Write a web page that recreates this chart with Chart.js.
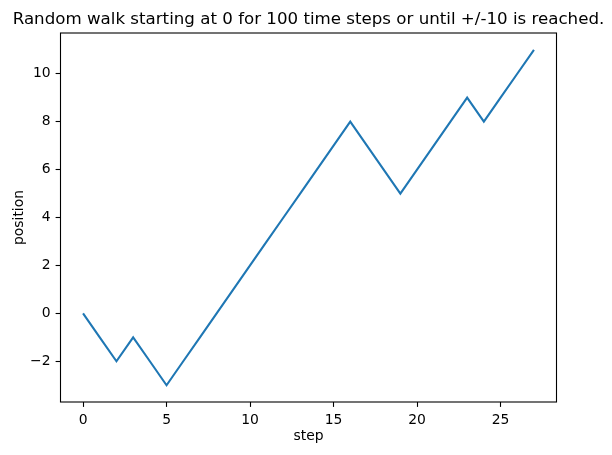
<!DOCTYPE html>
<html>
<head>
<meta charset="utf-8">
<script src="https://cdn.jsdelivr.net/npm/chart.js@4/dist/chart.umd.min.js"></script>
<style>
  html, body { margin: 0; padding: 0; background: #fff; }
  #wrap { width: 612px; height: 455px; position: relative; }
</style>
</head>
<body>
<div id="wrap"><canvas id="c"></canvas></div>
<script>
// random walk, one position per step
const steps = [0,1,2,3,4,5,6,7,8,9,10,11,12,13,14,15,16,17,18,19,20,21,22,23,24,25,26,27];
const positions = [0,-1,-2,-1,-2,-3,-2,-1,0,1,2,3,4,5,6,7,8,7,6,5,6,7,8,9,8,9,10,11];
const xTicks = [0,5,10,15,20,25];
const yTicks = [-2,0,2,4,6,8,10];

const FONT = 'DejaVu Sans';
const minus = v => String(v).replace('-', '\u2212');

// axes frame on all four sides, like matplotlib spines
const frame = {
  id: 'frame',
  afterDraw(chart) {
    const a = chart.chartArea, ctx = chart.ctx;
    ctx.save();
    ctx.strokeStyle = '#000';
    ctx.lineWidth = 1.1;
    ctx.strokeRect(a.left, a.top, a.right - a.left, a.bottom - a.top);
    ctx.restore();
  }
};

new Chart(document.getElementById('c'), {
  type: 'line',
  data: {
    datasets: [{
      data: steps.map((s, i) => ({ x: s, y: positions[i] })),
      borderColor: '#1f77b4', borderWidth: 2.1,
      pointRadius: 0, tension: 0, fill: false
    }]
  },
  options: {
    responsive: true, maintainAspectRatio: false, animation: false,
    layout: { padding: { left: 5, right: 0, top: 0, bottom: 0 } },
    plugins: {
      legend: { display: false },
      tooltip: { enabled: false },
      title: {
        display: true,
        text: 'Random walk starting at 0 for 100 time steps or until +/-10 is reached.',
        color: '#000', font: { family: FONT, size: 16.67, weight: 'normal' },
        padding: { top: 9.5, bottom: 3.5 }
      }
    },
    scales: {
      x: {
        type: 'linear', min: -1.35, max: 28.35,
        afterBuildTicks: s => { s.ticks = xTicks.map(v => ({ value: v })); },
        afterFit: s => { s.height = 53; },
        grid: { drawOnChartArea: false, tickLength: 4.9, color: '#000', tickWidth: 1.1 },
        border: { display: false },
        ticks: { color: '#000', padding: 5.4, maxRotation: 0, font: { family: FONT, size: 13.9 }, callback: minus },
        title: { display: true, text: 'step', color: '#000', font: { family: FONT, size: 13.9 }, padding: { top: 0, bottom: 10.3 } }
      },
      y: {
        type: 'linear', min: -3.7, max: 11.7,
        afterBuildTicks: s => { s.ticks = yTicks.map(v => ({ value: v })); },
        afterFit: s => { s.width = 55.5; },
        grid: { drawOnChartArea: false, tickLength: 4.9, color: '#000', tickWidth: 1.1 },
        border: { display: false },
        ticks: { color: '#000', padding: 5, font: { family: FONT, size: 13.9 }, callback: minus },
        title: { display: true, text: 'position', color: '#000', font: { family: FONT, size: 13.9 }, padding: { top: 5.6, bottom: 0 } }
      },
      // empty right-hand space, matching the figure margin
      yRight: {
        position: 'right', display: true,
        afterFit: s => { s.width = 55.5; },
        grid: { display: false }, border: { display: false },
        ticks: { display: false }
      }
    }
  },
  plugins: [frame]
});
</script>
</body>
</html>
